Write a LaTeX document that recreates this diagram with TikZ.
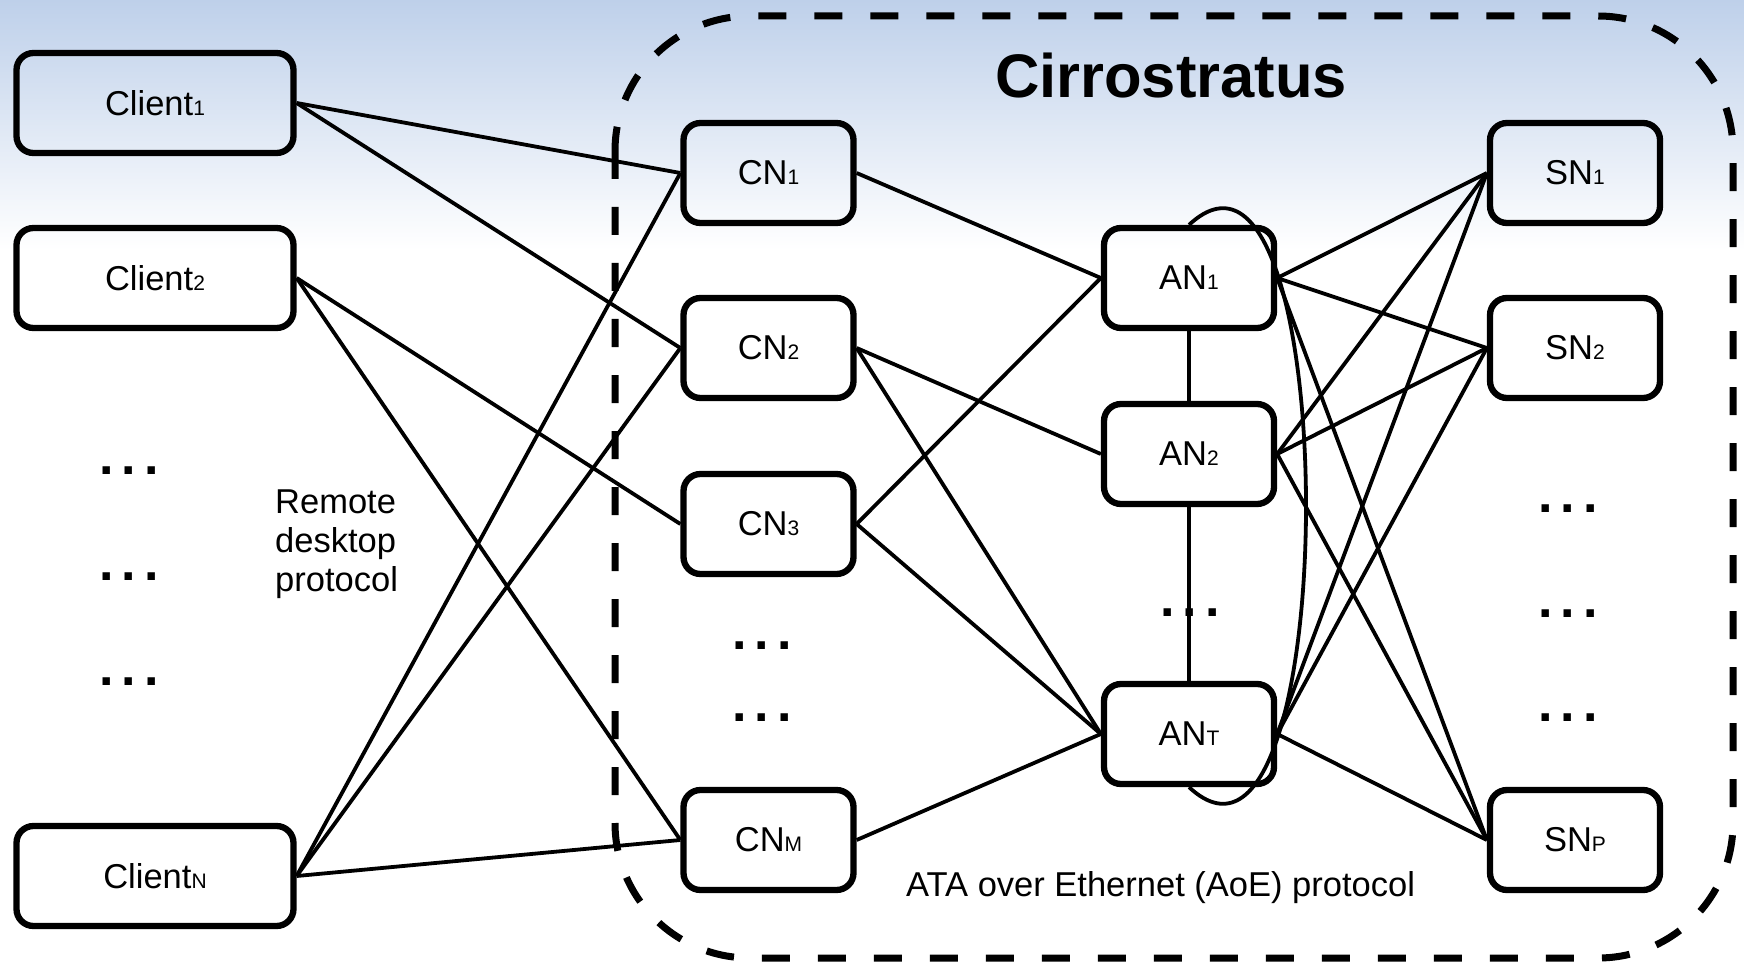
\documentclass[tikz,border=0pt]{standalone}
\usepackage{fontspec}
\setmainfont{Liberation Sans}
\definecolor{bgtop}{RGB}{190,208,234}
\newcommand\idx[1]{{\fontsize{21}{21}\selectfont #1}}
\newcommand\ellip{.\hspace{8pt}.\hspace{8pt}.}
\begin{document}
\begin{tikzpicture}[x=1pt,y=-1pt,
  box/.style={draw=black, line width=6.3pt, rounded corners=17pt, inner sep=0pt,
    minimum height=100pt, font=\fontsize{34.5}{40}\selectfont},
  client/.style={box, minimum width=277pt},
  srv/.style={box, minimum width=170pt},
  link/.style={line width=3.8pt},
  dotrow/.style={font=\fontsize{52}{52}\selectfont\bfseries, anchor=base, inner sep=0pt},
  label/.style={font=\fontsize{34.5}{39}\selectfont, inner sep=0pt},
  zone/.style={line width=7pt, dash pattern=on 28pt off 28pt, rounded corners=135pt},
]
\useasboundingbox (0,0) rectangle (1744,965);
% sky-blue band fading into the white page
\shade[top color=bgtop, bottom color=white] (0,0) rectangle (1744,250);

% the Cirrostratus cluster boundary
\draw[zone] (615,16) rectangle (1733,958);
\node[font=\fontsize{61.5}{66}\selectfont\bfseries, anchor=base, inner sep=0pt] (title) at (1171,98) {Cirrostratus};

% clients
\node[client] (c1) at (155,103) {Client\idx{1}};
\node[client] (c2) at (155,278) {Client\idx{2}};
\node[client] (cN) at (155,876) {Client\idx{N}};
\node[dotrow] (cd1) at (129,474) {\ellip};
\node[dotrow] (cd2) at (129,580) {\ellip};
\node[dotrow] (cd3) at (129,685) {\ellip};

% compute nodes
\node[srv] (cn1) at (768.5,173) {CN\idx{1}};
\node[srv] (cn2) at (768.5,348) {CN\idx{2}};
\node[srv] (cn3) at (768.5,524) {CN\idx{3}};
\node[srv] (cnm) at (768.5,840) {CN\idx{M}};
\node[dotrow] (cnd1) at (762,649) {\ellip};
\node[dotrow] (cnd2) at (762,721) {\ellip};

% AoE nodes
\node[srv] (an1) at (1189,278) {AN\idx{1}};
\node[srv] (an2) at (1189,454) {AN\idx{2}};
\node[srv] (ant) at (1189,734) {AN\idx{T}};

% storage nodes
\node[srv] (sn1) at (1575,173) {SN\idx{1}};
\node[srv] (sn2) at (1575,348) {SN\idx{2}};
\node[srv] (snp) at (1575,840) {SN\idx{P}};
\node[dotrow] (snd1) at (1568,512) {\ellip};
\node[dotrow] (snd2) at (1568,617) {\ellip};
\node[dotrow] (snd3) at (1568,721) {\ellip};

% protocol labels
\node[label, anchor=north west, align=left] (rdp) at (275,490) {Remote\\desktop\\protocol};
\node[label, anchor=base west] (aoe) at (906,896) {ATA over Ethernet (AoE) protocol};

% clients to compute nodes
\draw[link] (c1.east) -- (cn1.west);
\draw[link] (c1.east) -- (cn2.west);
\draw[link] (c2.east) -- (cn3.west);
\draw[link] (c2.east) -- (cnm.west);
\draw[link] (cN.east) -- (cn1.west);
\draw[link] (cN.east) -- (cn2.west);
\draw[link] (cN.east) -- (cnm.west);

% compute nodes to AoE nodes
\draw[link] (cn1.east) -- (an1.west);
\draw[link] (cn2.east) -- (an2.west);
\draw[link] (cn2.east) -- (ant.west);
\draw[link] (cn3.east) -- (an1.west);
\draw[link] (cn3.east) -- (ant.west);
\draw[link] (cnm.east) -- (ant.west);

% AoE chain and ring
\draw[link] (an1.south) -- (an2.north);
\draw[link] (an2.south) -- (ant.north);
\node[dotrow] (and) at (1190,616) {\ellip};
\draw[link] (an1.north) .. controls (1345,80) and (1345,932) .. (ant.south);

% AoE nodes to storage nodes
\foreach \a in {an1,an2,ant}
  \foreach \s in {sn1,sn2,snp}
    \draw[link] (\a.east) -- (\s.west);
\end{tikzpicture}
\end{document}
